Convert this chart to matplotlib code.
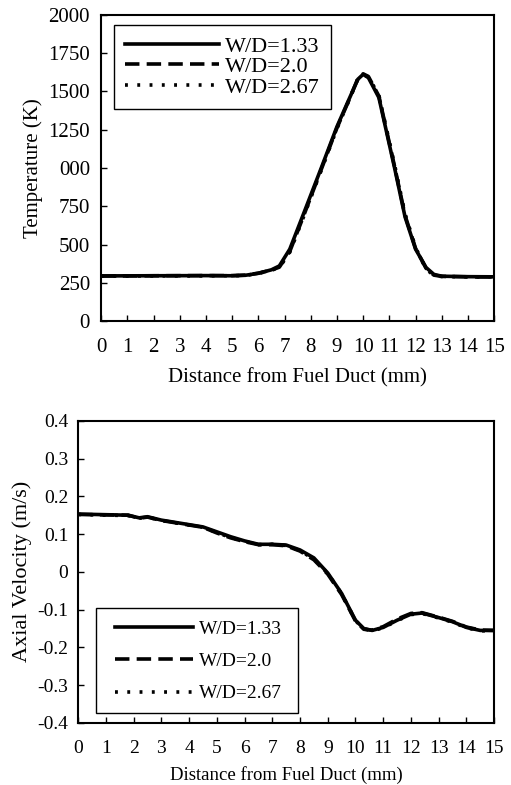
import matplotlib
matplotlib.use("Agg")
import matplotlib.pyplot as plt
from matplotlib.patches import Rectangle

plt.rcParams['font.family'] = ['Liberation Serif', 'DejaVu Serif']

# temperature profiles (K) vs distance (mm)
x_t = [0, 2, 4, 5, 5.5, 6, 6.5, 6.8, 7.2, 7.7, 8.4, 9.0, 9.45, 9.8, 10.0, 10.2, 10.6, 11.2, 11.6, 12.0, 12.4, 12.7, 13.0, 14, 15]
t_133 = [295, 296, 297, 296, 299, 312, 335, 360, 470, 690, 1000, 1270, 1445, 1580, 1612, 1590, 1460, 1000, 680, 470, 350, 305, 293, 290, 289]
t_20 = [294, 296, 297, 297, 300, 313, 333, 352, 455, 675, 990, 1262, 1440, 1585, 1615, 1598, 1470, 1010, 690, 475, 345, 300, 292, 289, 288]
t_267 = [294, 295, 296, 296, 298, 311, 332, 350, 450, 670, 985, 1258, 1438, 1582, 1608, 1595, 1475, 1020, 700, 480, 340, 298, 291, 289, 288]

# axial velocity (m/s) vs distance (mm)
x_v = [0, 1.8, 2.2, 2.5, 3, 4.5, 5, 5.5, 6, 6.5, 7, 7.5, 8, 8.5, 9, 9.5, 10, 10.3, 10.6, 11, 11.5, 12, 12.4, 13, 13.5, 14, 14.5, 15]
v_133 = [0.153, 0.150, 0.143, 0.146, 0.137, 0.119, 0.106, 0.093, 0.082, 0.073, 0.073, 0.071, 0.058, 0.037, -0.003, -0.057, -0.128, -0.150, -0.155, -0.147, -0.128, -0.112, -0.109, -0.121, -0.132, -0.147, -0.155, -0.155]
v_20 = [0.152, 0.150, 0.142, 0.145, 0.136, 0.118, 0.103, 0.090, 0.080, 0.072, 0.072, 0.069, 0.055, 0.032, -0.006, -0.060, -0.130, -0.152, -0.154, -0.145, -0.125, -0.110, -0.108, -0.120, -0.131, -0.146, -0.154, -0.155]
v_267 = [0.152, 0.149, 0.142, 0.145, 0.136, 0.118, 0.104, 0.091, 0.081, 0.072, 0.073, 0.070, 0.056, 0.034, -0.004, -0.058, -0.129, -0.151, -0.156, -0.148, -0.129, -0.113, -0.110, -0.122, -0.133, -0.148, -0.156, -0.156]

labels = ["W/D=1.33", "W/D=2.0", "W/D=2.67"]
xticks = list(range(0, 16))
t_ticks = [0, 250, 500, 750, 1000, 1250, 1500, 1750, 2000]
t_ticklabels = ["0", "250", "500", "750", "000", "1250", "1500", "1750", "2000"]
v_ticks = [-0.4, -0.3, -0.2, -0.1, 0, 0.1, 0.2, 0.3, 0.4]
v_ticklabels = ["-0.4", "-0.3", "-0.2", "-0.1", "0", "0.1", "0.2", "0.3", "0.4"]

fig = plt.figure(figsize=(5.11, 7.85), dpi=100)
ax1 = fig.add_axes([0.198, 0.591, 0.769, 0.390])
ax2 = fig.add_axes([0.153, 0.079, 0.814, 0.385])

styles = [dict(linestyle='-'), dict(dashes=(4, 2)), dict(dashes=(0.8, 2.6))]

#PANEL 1 temperature
for y, lab, st in zip([t_133, t_20, t_267], labels, styles):
    ax1.plot(x_t, y, color='black', linewidth=2.6, label=lab, **st)
ax1.set_xlim(0, 15)
ax1.set_ylim(0, 2000)
ax1.set_xticks(xticks)
ax1.set_yticks(t_ticks)
ax1.set_yticklabels(t_ticklabels)
ax1.set_xlabel("Distance from Fuel Duct (mm)", fontsize=15, labelpad=8)
ax1.set_ylabel("Temperature (K)", fontsize=15, labelpad=4)
ax1.tick_params(axis='x', labelsize=15, pad=12)
ax1.tick_params(axis='y', labelsize=15, pad=8)
leg1 = ax1.legend(loc='upper left', bbox_to_anchor=(0.033, 0.967), borderaxespad=0,
                  fontsize=16, handlelength=4.2, labelspacing=0.0, fancybox=False,
                  framealpha=1, edgecolor='black', borderpad=0.5, handletextpad=0.3)
leg1.get_frame().set_linewidth(1.0)

#PANEL 2 velocity
for y, lab, st in zip([v_133, v_20, v_267], labels, styles):
    ax2.plot(x_v, y, color='black', linewidth=2.6, label=lab, **st)
ax2.set_xlim(0, 15)
ax2.set_ylim(-0.4, 0.4)
ax2.set_xticks(xticks)
ax2.set_yticks(v_ticks)
ax2.set_yticklabels(v_ticklabels)
ax2.set_xlabel("Distance from Fuel Duct (mm)", fontsize=13.5, labelpad=6.5)
ax2.set_ylabel("Axial Velocity (m/s)", fontsize=16, labelpad=4)
ax2.tick_params(axis='x', labelsize=14, pad=12)
ax2.tick_params(axis='y', labelsize=14, pad=7)
# cadre de la legende dessine a part (plus de marge a gauche/droite)
ax2.add_patch(Rectangle((0.043, 0.033), 0.486, 0.348, transform=ax2.transAxes,
                        facecolor='white', edgecolor='black', linewidth=1.0, zorder=4))
leg2 = ax2.legend(loc='lower left', bbox_to_anchor=(0.089, 0.068), borderaxespad=0,
                  fontsize=14, handlelength=4.0, labelspacing=0.75, frameon=False,
                  borderpad=0, handletextpad=0.3)
leg2.set_zorder(5)

for ax in (ax1, ax2):
    ax.tick_params(direction='in', length=4, width=1)
    for s in ax.spines.values():
        s.set_linewidth(1.5)

fig.savefig("out.png", dpi=100)
